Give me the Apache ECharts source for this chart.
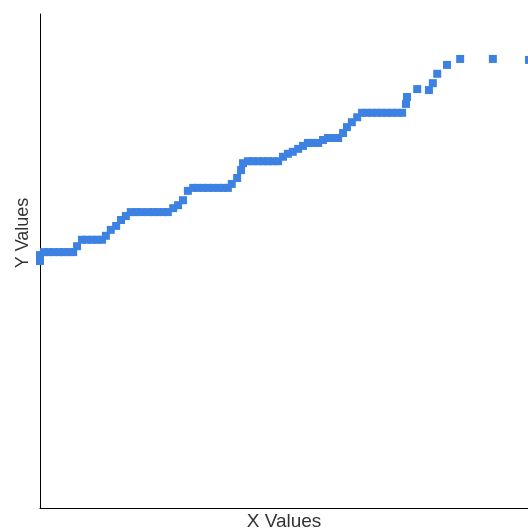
<!DOCTYPE html>
<html>
<head>
<meta charset="utf-8">
<script src="https://cdn.jsdelivr.net/npm/echarts@6/dist/echarts.min.js"></script>
<style>html,body{margin:0;padding:0;background:#fff}#c{width:528px;height:530px}</style>
</head>
<body>
<div id="c"></div>
<script>
var xValues = [0, 0, 0.8, 1.8, 2.9, 3.9, 4.9, 5.9, 6.8, 7.6, 8.6, 9.6, 10.7, 11.7, 12.7, 13.5, 14.5, 15.6, 16.6, 17.6, 18.6, 19.7, 20.7, 22.1, 23.2, 24.2, 25.2, 26.2, 27.3, 28.3, 29.3, 30.3, 31.4, 32.4, 33.4, 34.4, 35.5, 36.5, 37.5, 38.5, 39.3, 40.4, 41.2, 41.6, 42.6, 43.6, 44.7, 45.7, 46.7, 47.7, 48.8, 49.8, 50.8, 51.8, 52.9, 53.9, 54.9, 55.9, 57.0, 58.0, 59.0, 60.0, 61.1, 62.1, 62.9, 63.9, 65.0, 66.0, 67.0, 68.0, 69.1, 70.1, 71.1, 72.1, 73.2, 74.2, 75.0, 75.2, 77.3, 79.7, 80.5, 81.4, 83.4, 86.1, 92.8, 100.2];
var yValues = [50.0, 51.2, 51.8, 51.8, 51.8, 51.8, 51.8, 51.8, 51.8, 53.0, 54.3, 54.3, 54.3, 54.3, 54.3, 55.1, 56.3, 57.1, 58.3, 59.1, 59.9, 59.9, 59.9, 59.9, 59.9, 59.9, 59.9, 59.9, 60.7, 61.3, 62.3, 64.2, 64.8, 64.8, 64.8, 64.8, 64.8, 64.8, 64.8, 64.8, 65.6, 66.8, 68.4, 69.8, 70.2, 70.2, 70.2, 70.2, 70.2, 70.2, 70.2, 71.1, 71.7, 72.1, 72.7, 73.3, 73.9, 73.9, 73.9, 74.5, 74.9, 74.9, 74.9, 75.9, 77.1, 78.1, 79.1, 80.0, 80.0, 80.0, 80.0, 80.0, 80.0, 80.0, 80.0, 80.0, 81.8, 83.2, 84.8, 84.6, 86.0, 87.9, 89.7, 90.9, 90.9, 90.7];
var xAxisName = 'X Values';
var yAxisName = 'Y Values';

var points = xValues.map(function (x, i) { return [x, yValues[i]]; });
var chart = echarts.init(document.getElementById('c'), null, {renderer: 'canvas'});
chart.setOption({
  animation: false,
  grid: {left: 40, right: 0, top: 14, bottom: 22, containLabel: false, outerBoundsMode: 'none'},
  xAxis: {
    type: 'value', min: 0, max: 100,
    name: xAxisName, nameLocation: 'middle', nameGap: 4,
    nameTextStyle: {color: '#333', fontSize: 19, fontFamily: 'Liberation Sans', verticalAlign: 'top'},
    axisLine: {show: true, lineStyle: {color: '#000', width: 1}},
    axisTick: {show: false}, axisLabel: {show: false}, splitLine: {show: false}
  },
  yAxis: {
    type: 'value', min: 0, max: 100,
    name: yAxisName, nameLocation: 'middle', nameGap: 8,
    nameTextStyle: {color: '#333', fontSize: 18, fontFamily: 'Liberation Sans', padding: [0, 0, 0, 56]},
    axisLine: {show: true, lineStyle: {color: '#000', width: 1}},
    axisTick: {show: false}, axisLabel: {show: false}, splitLine: {show: false}
  },
  series: [{
    type: 'scatter',
    data: points,
    symbol: 'rect',
    symbolSize: 8,
    itemStyle: {color: '#3d82e2', opacity: 1},
    clip: false
  }]
});
</script>
</body>
</html>
